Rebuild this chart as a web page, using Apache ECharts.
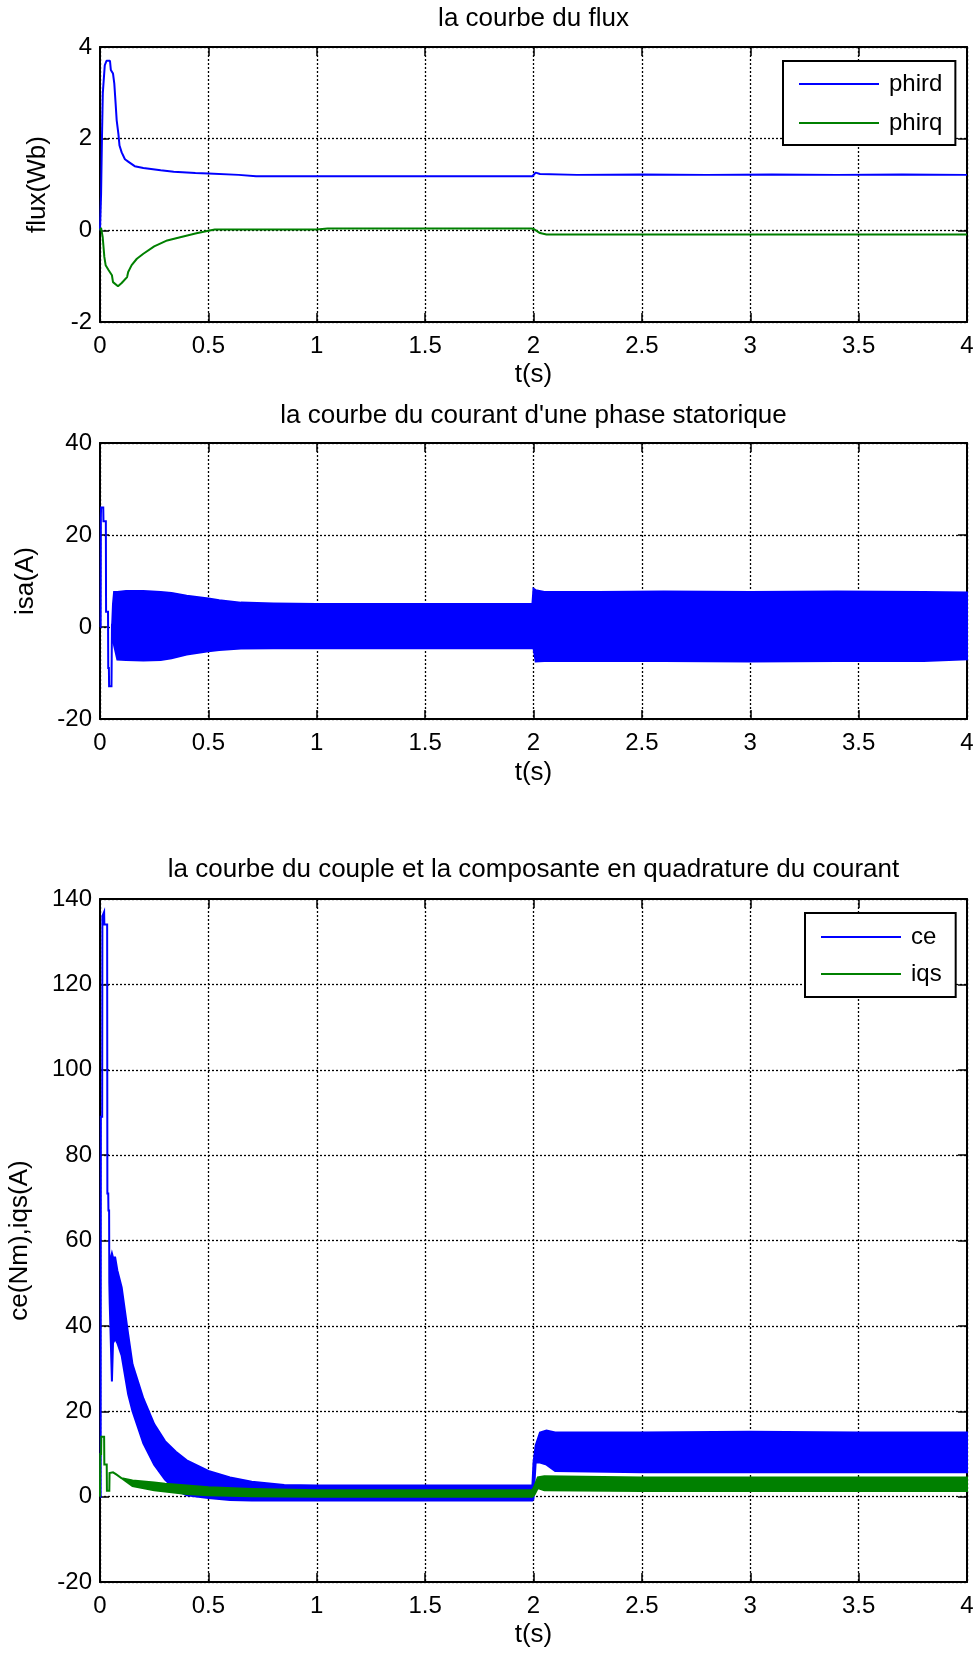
<!DOCTYPE html>
<html>
<head>
<meta charset="utf-8">
<script src="https://cdn.jsdelivr.net/npm/echarts@6/dist/echarts.min.js"></script>
<style>
html,body{margin:0;padding:0;background:#fff;}
#c{width:978px;height:1656px;}
</style>
</head>
<body>
<div id="c"></div>
<script>
// ---------------- DATA ----------------
const tTicks = [0, 0.5, 1, 1.5, 2, 2.5, 3, 3.5, 4];
const fluxTicks = [-2, 0, 2, 4];
const isaTicks = [-20, 0, 20, 40];
const ceTicks = [-20, 0, 20, 40, 60, 80, 100, 120, 140];

const titles = ['la courbe du flux',
  "la courbe du courant d'une phase statorique",
  'la courbe du couple et la composante en quadrature du courant'];
const yNames = ['flux(Wb)', 'isa(A)', 'ce(Nm),iqs(A)'];
const xName = 't(s)';

// flux (plot 1)
const phirdT = [0, 0.004, 0.005, 0.008, 0.009, 0.012, 0.013, 0.02, 0.022, 0.03, 0.046, 0.05, 0.06, 0.066, 0.072, 0.077, 0.085, 0.09, 0.1, 0.115, 0.13, 0.16, 0.2, 0.28, 0.34, 0.44, 0.5, 0.64, 0.72, 1.0, 1.5, 1.995, 2.01, 2.03, 2.2, 2.5, 2.8, 3.1, 3.4, 3.7, 4.0];
const phirdV = [0, 0, 0.8, 0.8, 2.0, 2.0, 3.0, 3.0, 3.6, 3.7, 3.7, 3.5, 3.42, 3.2, 2.77, 2.4, 2.1, 1.85, 1.7, 1.55, 1.5, 1.4, 1.36, 1.31, 1.28, 1.25, 1.24, 1.21, 1.18, 1.18, 1.18, 1.18, 1.26, 1.23, 1.21, 1.22, 1.21, 1.22, 1.21, 1.22, 1.21];
const phirqT = [0, 0.005, 0.0125, 0.02, 0.026, 0.04, 0.055, 0.06, 0.083, 0.1, 0.125, 0.13, 0.146, 0.17, 0.2, 0.25, 0.31, 0.37, 0.44, 0.5, 0.53, 1.0, 1.05, 1.5, 1.99, 2.0, 2.03, 2.06, 2.5, 3.0, 3.5, 4.0];
const phirqV = [0, 0.05, -0.15, -0.58, -0.76, -0.87, -0.98, -1.13, -1.22, -1.15, -1.02, -0.91, -0.76, -0.62, -0.51, -0.35, -0.22, -0.15, -0.07, -0.01, 0.02, 0.02, 0.04, 0.04, 0.04, 0.03, -0.06, -0.09, -0.09, -0.09, -0.09, -0.09];

// stator current isa (plot 2): envelope of the oscillation (upper / lower)
const isaT = [0, 0.003, 0.004, 0.005, 0.015, 0.016, 0.027, 0.028, 0.037, 0.038, 0.041, 0.042, 0.053, 0.055, 0.06, 0.065, 0.08, 0.12, 0.2, 0.28, 0.33, 0.4, 0.5, 0.55, 0.65, 0.8, 1.0, 1.5, 1.995, 2.0, 2.01, 2.05, 2.3, 2.6, 3.0, 3.4, 3.8, 4.0];
const isaUpper = [0, 0, 24, 26, 26, 23, 23, 3.3, 3.3, -8.9, -8.9, -12.9, -12.9, -1, 5, 7.6, 7.6, 7.8, 7.8, 7.6, 7.4, 6.8, 6.2, 5.8, 5.3, 5.1, 5.0, 5.0, 5.0, 8.3, 8.0, 7.6, 7.6, 7.7, 7.6, 7.7, 7.6, 7.5];
const isaLower = [0, 0, 24, 26, 26, 23, 23, 3.3, 3.3, -8.9, -8.9, -12.9, -12.9, -1, -2, -4, -7.1, -7.2, -7.3, -7.2, -6.8, -6.0, -5.3, -5.0, -4.7, -4.6, -4.6, -4.6, -4.6, -4.6, -7.5, -7.4, -7.4, -7.4, -7.5, -7.4, -7.4, -7.0];

// torque ce (plot 3): envelope
const ceT = [0, 0.003, 0.004, 0.01, 0.011, 0.019, 0.02, 0.033, 0.034, 0.038, 0.039, 0.042, 0.043, 0.045, 0.05, 0.055, 0.06, 0.07, 0.08, 0.1, 0.13, 0.15, 0.2, 0.25, 0.3, 0.35, 0.4, 0.5, 0.6, 0.7, 0.85, 1.0, 1.5, 1.995, 2.0, 2.01, 2.03, 2.06, 2.1, 2.5, 3.0, 3.5, 4.0];
const ceUpper = [0, 0, 89, 89, 136, 137, 134, 134, 71, 71, 67, 67, 50, 56, 56, 57, 56, 56, 53, 49, 38, 31, 23, 17, 13, 10.5, 8.5, 6, 4.5, 3.5, 2.7, 2.6, 2.6, 2.6, 8, 12, 15, 15.5, 15, 15, 15.2, 15, 15];
const ceLower = [0, 0, 89, 89, 136, 137, 134, 134, 71, 71, 67, 67, 50, 45, 36, 27, 36, 37, 36, 33, 24, 20, 12.5, 7.5, 4, 1.5, 0.3, -0.3, -0.8, -0.9, -0.9, -0.9, -0.9, -0.9, -0.5, 8, 8, 7.5, 6, 5.7, 5.7, 5.7, 5.7];

// quadrature current iqs (plot 3): envelope
const iqsT = [0, 0.001, 0.005, 0.006, 0.019, 0.02, 0.031, 0.032, 0.043, 0.044, 0.06, 0.075, 0.1, 0.15, 0.25, 0.3, 0.4, 0.5, 0.7, 1.0, 1.5, 1.995, 2.005, 2.02, 2.05, 2.5, 3.0, 3.5, 4.0];
const iqsUpper = [0, 10, 10, 14, 14, 7.5, 7.5, 1.4, 1.4, 5.5, 5.7, 5.2, 4.3, 3.8, 3.3, 3.0, 2.6, 2.2, 1.8, 1.5, 1.5, 1.5, 2.5, 4.5, 4.8, 4.5, 4.5, 4.5, 4.5];
const iqsLower = [0, 10, 10, 14, 14, 7.5, 7.5, 1.4, 1.4, 5.5, 5.7, 5.2, 4.3, 2.5, 1.5, 1.2, 0.6, 0.3, 0.1, 0.0, 0.0, 0.0, 0.5, 2.0, 1.5, 1.3, 1.3, 1.3, 1.3];

// ---------------- STYLE / LAYOUT ----------------
const FONT = "'Liberation Sans', Arial, Helvetica, sans-serif";
const BLUE = '#0000ff', GREEN = '#008000';
const G = [
  {left: 100, top: 47, width: 867, height: 275},
  {left: 100, top: 443, width: 867, height: 276},
  {left: 100, top: 899, width: 867, height: 683}
];
const titleTops = [6, 403, 857];
const yNameGaps = [49, 61, 67];
const xNameGaps = [40, 41, 40];
const yTickSets = [fluxTicks, isaTicks, ceTicks];

const lbl = {color: '#000', fontSize: 24, fontFamily: FONT, lineHeight: 24};
const nameStyle = {color: '#000', fontSize: 26, fontFamily: FONT, lineHeight: 26};
const splitStyle = {show: true, lineStyle: {color: '#000', width: 1.3, type: [2, 2]}};
const lineAx = {show: true, onZero: false, lineStyle: {color: '#000', width: 2}};
const tickAx = {show: true, inside: true, length: 9, lineStyle: {color: '#000', width: 1.5}};

function range(t) { return {min: t[0], max: t[t.length - 1], interval: t[1] - t[0]}; }

const xAxes = [], yAxes = [];
for (let i = 0; i < 3; i++) {
  xAxes.push(Object.assign({type: 'value', gridIndex: i, position: 'bottom',
    name: xName, nameLocation: 'middle', nameGap: xNameGaps[i], nameTextStyle: nameStyle,
    axisLine: lineAx, axisTick: tickAx, axisLabel: Object.assign({margin: 12}, lbl),
    splitLine: splitStyle}, range(tTicks)));
  yAxes.push(Object.assign({type: 'value', gridIndex: i, position: 'left',
    name: yNames[i], nameLocation: 'middle', nameGap: yNameGaps[i], nameTextStyle: nameStyle,
    axisLine: lineAx, axisTick: tickAx, axisLabel: Object.assign({margin: 8}, lbl),
    splitLine: splitStyle}, range(yTickSets[i])));
}
for (let i = 0; i < 3; i++) {
  xAxes.push(Object.assign({type: 'value', gridIndex: i, position: 'top',
    axisLine: lineAx, axisTick: tickAx, axisLabel: {show: false}, splitLine: {show: false}}, range(tTicks)));
  yAxes.push(Object.assign({type: 'value', gridIndex: i, position: 'right',
    axisLine: lineAx, axisTick: tickAx, axisLabel: {show: false}, splitLine: {show: false}}, range(yTickSets[i])));
}

function zip(T, V) { return T.map((t, i) => [t, V[i]]); }

function lineSeries(name, gi, T, V, color) {
  return {type: 'line', name, xAxisIndex: gi, yAxisIndex: gi, data: zip(T, V),
    symbol: 'none', showSymbol: false, lineStyle: {color, width: 2}, itemStyle: {color},
    silent: true, animation: false};
}

function bandSeries(name, gi, T, U, L, color) {
  return {type: 'custom', name, xAxisIndex: gi, yAxisIndex: gi,
    data: [[T[0], U[0]]], silent: true, animation: false, itemStyle: {color},
    renderItem: function (params, api) {
      const pts = [];
      for (let i = 0; i < T.length; i++) pts.push(api.coord([T[i], U[i]]));
      for (let i = T.length - 1; i >= 0; i--) pts.push(api.coord([T[i], L[i]]));
      return {type: 'polygon', shape: {points: pts},
        style: {fill: color, stroke: color, lineWidth: 2, lineJoin: 'miter'}};
    }};
}

const legendCommon = {orient: 'vertical', icon: 'rect', itemWidth: 80, itemHeight: 2,
  borderColor: '#000', borderWidth: 2, backgroundColor: '#fff', selectedMode: false,
  itemStyle: {borderWidth: 0},
  textStyle: {color: '#000', fontSize: 24, fontFamily: FONT, lineHeight: 24, padding: [0, 0, 0, 5]}};

const option = {
  animation: false,
  backgroundColor: '#fff',
  title: titles.map((t, i) => ({text: t, left: G[i].left + G[i].width / 2, top: titleTops[i],
    textAlign: 'center', textVerticalAlign: 'top', padding: 0,
    textStyle: {color: '#000', fontSize: 26, fontWeight: 'normal', fontFamily: FONT, lineHeight: 26}})),
  grid: G.map(g => Object.assign({containLabel: false, outerBoundsMode: 'none', show: false}, g)),
  xAxis: xAxes,
  yAxis: yAxes,
  legend: [
    Object.assign({}, legendCommon, {left: 783, top: 61, itemGap: 15, padding: [11, 13, 10, 16],
      data: [{name: 'phird', itemStyle: {color: BLUE, borderWidth: 0}}, {name: 'phirq', itemStyle: {color: GREEN, borderWidth: 0}}]}),
    Object.assign({}, legendCommon, {left: 805, top: 913, itemGap: 13, padding: [12, 14, 11, 16],
      data: [{name: 'ce', itemStyle: {color: BLUE, borderWidth: 0}}, {name: 'iqs', itemStyle: {color: GREEN, borderWidth: 0}}]})
  ],
  series: [
    lineSeries('phird', 0, phirdT, phirdV, BLUE),
    lineSeries('phirq', 0, phirqT, phirqV, GREEN),
    bandSeries('isa', 1, isaT, isaUpper, isaLower, BLUE),
    bandSeries('ce', 2, ceT, ceUpper, ceLower, BLUE),
    bandSeries('iqs', 2, iqsT, iqsUpper, iqsLower, GREEN)
  ]
};

const chart = echarts.init(document.getElementById('c'), null, {renderer: 'canvas'});
chart.setOption(option);
</script>
</body>
</html>
